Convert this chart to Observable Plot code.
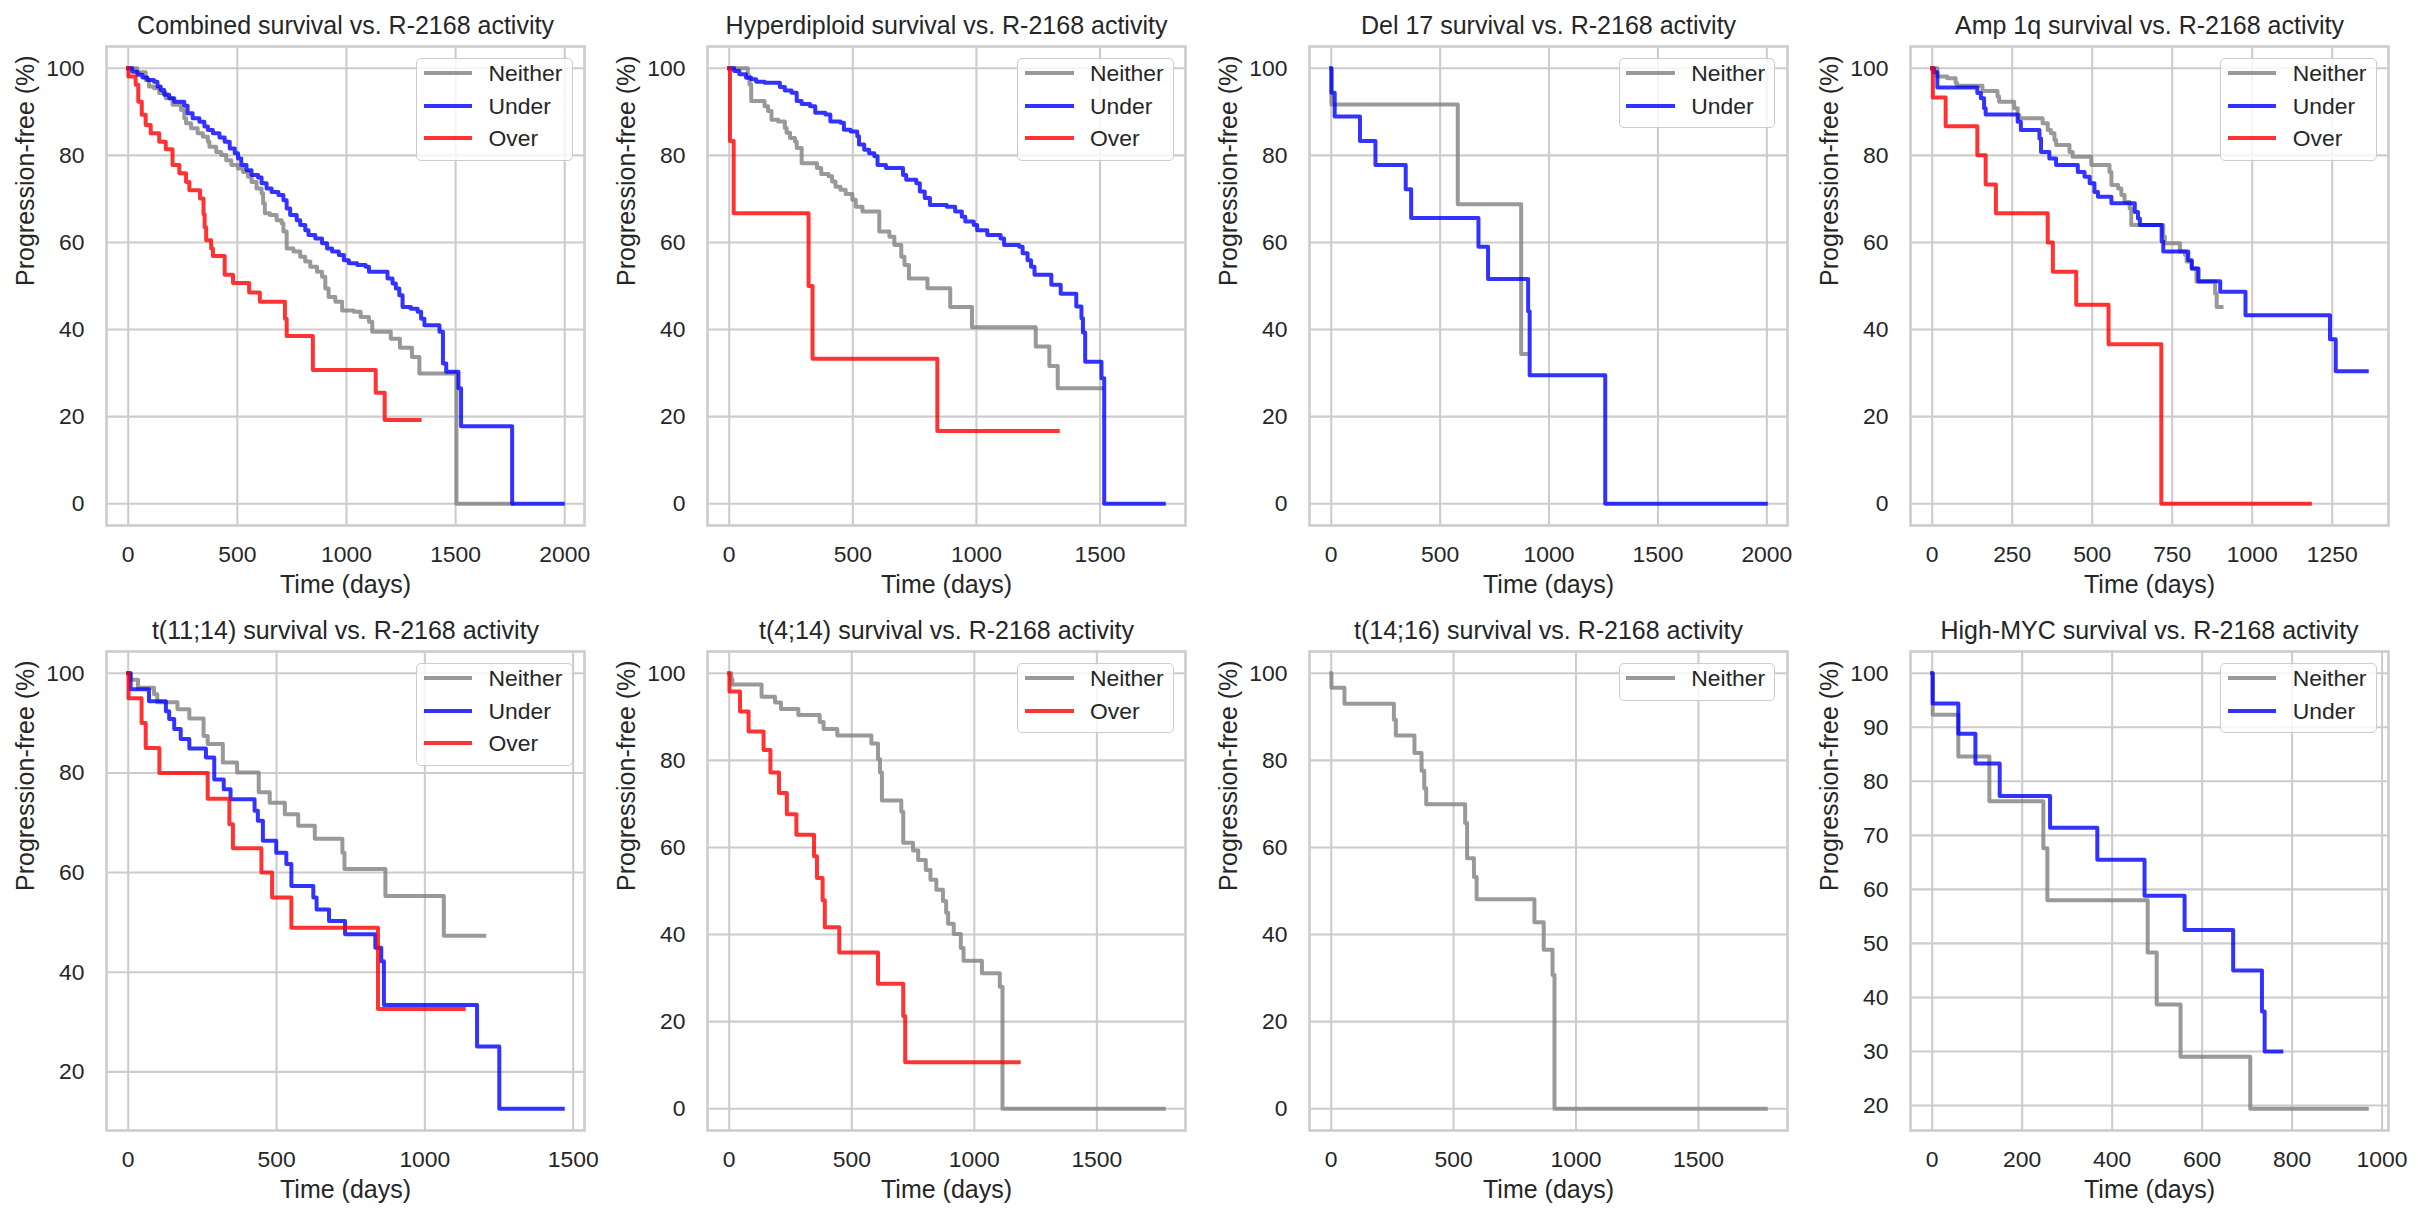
<!DOCTYPE html>
<html><head><meta charset="utf-8">
<script src="https://cdn.jsdelivr.net/npm/d3@7"></script>
<script src="https://cdn.jsdelivr.net/npm/@observablehq/plot@0.6"></script>
<style>
html,body{margin:0;padding:0;background:#fff;}
#page{position:relative;width:2418px;height:1218px;overflow:hidden;font-family:'Liberation Sans',Arial,sans-serif;color:#262626;}
.panel{position:absolute;width:604px;height:609px;}
.legend{position:absolute;box-sizing:border-box;border:1.8px solid #cccccc;border-radius:5px;background:rgba(255,255,255,0.8);padding-right:9.2px;}
.rows{margin-top:-1.7px;}
.row{display:flex;align-items:center;height:32.6px;}
.sw{margin-left:6.8px;width:48.6px;height:4px;margin-right:16.4px;opacity:0.8;flex:none;}
.lab{font-size:22.9px;line-height:32.6px;white-space:nowrap;}
</style></head><body><div id="page"></div>
<script>
// ---------- titles & ticks ----------
const titles = [
  "Combined survival vs. R-2168 activity",
  "Hyperdiploid survival vs. R-2168 activity",
  "Del 17 survival vs. R-2168 activity",
  "Amp 1q survival vs. R-2168 activity",
  "t(11;14) survival vs. R-2168 activity",
  "t(4;14) survival vs. R-2168 activity",
  "t(14;16) survival vs. R-2168 activity",
  "High-MYC survival vs. R-2168 activity"
];
const xLabel = "Time (days)";
const yLabel = "Progression-free (%)";
const groups = ["Neither", "Under", "Over"];
const groupColors = ["gray", "blue", "red"];

const xTicks2000 = [0, 500, 1000, 1500, 2000];
const xTicks1500 = [0, 500, 1000, 1500];
const xTicks1250 = [0, 250, 500, 750, 1000, 1250];
const xTicks1000 = [0, 200, 400, 600, 800, 1000];
const yTicks0 = [0, 20, 40, 60, 80, 100];
const yTicks20 = [20, 40, 60, 80, 100];
const yTicks10 = [20, 30, 40, 50, 60, 70, 80, 90, 100];

// ---------- data: [time (days), progression-free %] step points ----------
const combinedNeither = [[0,100],[41,99.1],[80,97.3],[95,95.8],[118,95.4],[142,94.3],[172,93.1],[203,91.6],[242,90.4],[257,88.5],[265,87.4],[288,86.2],[318,85.1],[342,84.3],[365,83.1],[372,82.0],[403,80.8],[426,80.1],[449,78.9],[472,77.8],[503,77.0],[526,76.2],[549,75.1],[565,73.9],[588,72.4],[611,71.3],[618,69.0],[626,66.7],[649,66.3],[680,65.1],[703,64.4],[711,62.5],[726,58.6],[757,57.9],[788,56.7],[811,55.6],[834,54.4],[865,53.3],[888,52.1],[903,49.4],[918,47.5],[949,46.4],[980,44.4],[1034,44.1],[1065,42.9],[1103,41.8],[1118,39.5],[1203,37.9],[1245,35.8],[1300,33.7],[1334,29.9],[1504,0],[1760,0]];
const combinedUnder = [[0,100],[18,99.2],[42,98.5],[65,97.9],[88,97.3],[118,96.9],[134,95.8],[149,95.0],[165,93.9],[188,93.1],[211,92.3],[257,91.4],[272,89.7],[295,88.5],[326,87.7],[349,86.6],[365,85.8],[388,85.1],[418,84.1],[442,83.1],[465,81.6],[488,80.5],[503,79.3],[518,77.8],[542,76.6],[565,75.5],[595,74.9],[611,73.6],[634,72.4],[657,71.6],[688,70.9],[711,69.7],[726,67.8],[742,66.3],[772,65.1],[788,64.0],[811,62.8],[826,61.7],[857,60.9],[888,59.8],[911,58.6],[934,57.9],[965,57.1],[988,55.9],[1011,55.2],[1049,54.8],[1088,54.4],[1103,53.3],[1188,51.7],[1211,50.6],[1226,49.4],[1242,47.9],[1257,45.2],[1295,44.8],[1326,44.1],[1342,42.5],[1357,41.0],[1426,39.5],[1442,32.2],[1457,30.3],[1513,26.5],[1525,17.8],[1759,0],[1991,0]];
const combinedOver = [[0,100],[1,98.1],[34,96.2],[46,92.3],[62,89.3],[80,87.0],[103,85.1],[142,83.1],[172,81.4],[203,77.8],[234,75.9],[265,73.9],[280,72.0],[329,70.1],[345,66.5],[350,63.5],[357,60.5],[380,58.6],[388,56.9],[442,52.6],[480,50.7],[554,48.5],[603,46.4],[718,42.5],[726,38.5],[846,30.7],[1134,25.5],[1175,19.2],[1335,19.2]];

const hyperNeither = [[0,100],[75,98.2],[82,96.3],[89,92.5],[143,91.3],[157,90.2],[171,88.2],[198,87.8],[225,86.3],[232,85.2],[246,84.0],[266,83.2],[273,81.7],[293,78.2],[355,77.1],[372,75.7],[402,75.2],[416,74.0],[430,72.8],[450,72.1],[471,71.1],[498,69.8],[512,68.2],[539,67.1],[607,62.5],[648,61.3],[668,59.4],[696,56.7],[709,54.8],[727,51.7],[802,49.5],[894,45.2],[982,40.5],[1240,36.1],[1295,31.6],[1329,26.5],[1506,26.5]];
const hyperUnder = [[0,100],[20,99.4],[41,98.6],[68,97.8],[89,97.5],[109,96.9],[143,96.7],[205,95.7],[225,94.9],[252,94.4],[273,92.5],[293,91.8],[327,91.3],[348,89.8],[389,89.4],[409,87.8],[450,87.5],[464,85.9],[491,85.5],[518,84.4],[525,82.5],[546,81.3],[566,80.5],[587,79.8],[600,77.8],[634,77.1],[703,75.5],[716,74.4],[757,73.6],[771,71.7],[791,70.2],[812,68.6],[880,68.2],[914,67.1],[941,65.9],[955,64.8],[989,64.0],[1003,62.8],[1044,61.7],[1098,60.9],[1112,59.4],[1173,59.0],[1187,57.5],[1207,55.9],[1221,54.4],[1235,52.6],[1303,50.3],[1341,48.2],[1404,45.3],[1425,42.6],[1431,39.3],[1440,32.6],[1506,28.8],[1517,0],[1758,0]];
const hyperOver = [[0,100],[3,83.3],[18,66.7],[321,50.0],[337,33.3],[842,16.7],[1329,16.7]];

const del17Neither = [[0,100],[1,91.7],[581,68.8],[872,34.4],[893,34.4]];
const del17Under = [[0,100],[1,94.4],[16,88.9],[132,83.3],[203,77.8],[342,72.2],[367,65.6],[676,59.0],[720,51.6],[904,44.2],[911,29.5],[1258,0],[1995,0]];

const ampNeither = [[0,100],[16,98.1],[47,97.7],[73,96.6],[78,96.0],[157,94.8],[204,93.5],[209,92.3],[256,90.8],[267,89.3],[272,88.5],[345,87.4],[361,85.8],[371,85.1],[382,83.5],[387,82.4],[429,80.8],[439,79.7],[497,77.8],[554,76.2],[560,73.2],[581,72.4],[591,70.9],[601,69.3],[617,67.8],[622,64.0],[722,61.3],[727,59.8],[774,57.9],[790,57.1],[795,55.6],[811,54.0],[826,51.0],[884,48.3],[889,45.2],[904,45.2]];
const ampUnder = [[0,100],[5,99.1],[16,95.6],[141,94.3],[152,93.1],[162,90.8],[167,89.4],[267,87.7],[277,85.8],[335,83.9],[340,80.8],[366,79.3],[387,77.8],[455,76.2],[476,75.1],[492,73.6],[507,71.6],[518,70.5],[560,69.0],[633,67.0],[643,65.5],[649,64.0],[717,60.2],[722,57.9],[800,55.9],[811,54.0],[832,51.1],[900,48.7],[979,43.3],[1243,37.8],[1261,30.4],[1358,30.4]];
const ampOver = [[0,100],[2,93.3],[42,86.7],[141,80.0],[167,73.3],[199,66.7],[361,60.0],[377,53.3],[450,45.7],[551,36.6],[716,0],[1180,0]];

const t1114Neither = [[0,100],[8,98.7],[33,97.1],[87,95.8],[98,94.2],[166,92.8],[206,90.9],[254,87.4],[268,85.8],[319,82.1],[367,80.1],[440,76.1],[477,74.0],[528,71.7],[573,69.4],[629,66.8],[722,64.0],[729,60.7],[867,55.3],[1064,47.3],[1200,47.3]];
const t1114Under = [[0,100],[8,96.8],[70,94.4],[127,92.4],[138,90.8],[155,88.8],[177,86.8],[206,84.9],[262,83.1],[290,78.7],[322,76.7],[345,74.7],[426,72.4],[437,70.4],[454,66.4],[499,64.0],[533,61.7],[550,57.3],[624,55.0],[635,52.6],[677,50.3],[731,47.6],[833,44.9],[853,42.2],[862,33.4],[1176,25.1],[1251,12.6],[1465,12.6]];
const t1114Over = [[0,100],[1,95.0],[45,90.0],[59,85.0],[105,80.0],[268,74.8],[341,69.7],[353,64.9],[449,60.0],[485,55.0],[550,48.9],[842,32.6],[1131,32.6]];

const t414Neither = [[0,100],[8,98.7],[13,97.4],[132,94.6],[187,93.3],[211,91.8],[282,90.4],[369,88.8],[385,87.2],[441,85.7],[580,83.9],[607,80.3],[615,77.2],[623,70.8],[702,68.2],[710,61.1],[750,59.3],[771,57.1],[802,54.8],[821,52.6],[845,50.3],[872,47.7],[885,45.0],[893,42.5],[916,40.1],[945,36.9],[956,34.0],[1031,31.1],[1104,28.0],[1115,0],[1773,0]];
const t414Over = [[0,100],[1,95.8],[44,91.2],[79,86.6],[140,82.4],[168,77.2],[203,72.5],[235,67.6],[274,62.9],[346,58.0],[358,53.0],[381,47.9],[390,41.7],[449,35.9],[607,28.7],[710,21.3],[718,10.7],[1181,10.7]];

const t1416Neither = [[0,100],[1,96.7],[54,93.0],[256,89.3],[264,85.7],[340,81.7],[369,77.6],[380,73.6],[388,69.9],[547,65.6],[555,57.5],[583,53.2],[594,48.1],[830,42.8],[868,36.5],[904,30.7],[912,0],[1775,0]];

const mycNeither = [[0,100],[1,92.3],[58,84.6],[127,76.3],[247,67.6],[256,58.0],[479,48.3],[499,38.7],[552,29.0],[707,19.4],[966,19.4]];
const mycUnder = [[0,100],[1,94.4],[58,88.8],[96,83.3],[150,77.3],[262,71.4],[367,65.5],[472,58.8],[561,52.5],[669,45.0],[733,37.4],[739,30.0],[776,30.0]];

// ---------- panel table ----------
const panels = [
  {title: titles[0], series: [combinedNeither, combinedUnder, combinedOver], xTicks: xTicks2000, yTicks: yTicks0},
  {title: titles[1], series: [hyperNeither, hyperUnder, hyperOver], xTicks: xTicks1500, yTicks: yTicks0},
  {title: titles[2], series: [del17Neither, del17Under, null], xTicks: xTicks2000, yTicks: yTicks0},
  {title: titles[3], series: [ampNeither, ampUnder, ampOver], xTicks: xTicks1250, yTicks: yTicks0},
  {title: titles[4], series: [t1114Neither, t1114Under, t1114Over], xTicks: xTicks1500, yTicks: yTicks20},
  {title: titles[5], series: [t414Neither, null, t414Over], xTicks: xTicks1500, yTicks: yTicks0},
  {title: titles[6], series: [t1416Neither, null, null], xTicks: xTicks1500, yTicks: yTicks0},
  {title: titles[7], series: [mycNeither, mycUnder, null], xTicks: xTicks1000, yTicks: yTicks10}
];

const page = document.getElementById("page");
const W = 604, H = 609, ML = 106, FW = 478, FH = 479;
const MR = W - ML - FW;
const textColor = "#262626";
const gridColor = "#cccccc";
const plainNumber = d => String(d);

panels.forEach((p, i) => {
  const col = i % 4, row = Math.floor(i / 4);
  const mt = row === 0 ? 46 : 42;
  const mb = H - mt - FH;
  const entries = [];
  p.series.forEach((s, k) => { if (s) entries.push({group: groups[k], color: groupColors[k], data: s}); });
  const all = entries.flatMap(e => e.data);
  const xMax = d3.max(all, d => d[0]);
  const yMin = d3.min(all, d => d[1]);
  const yMax = 100;
  const xPad = 0.05 * xMax;
  const yPad = 0.05 * (yMax - yMin);

  const chart = Plot.plot({
    width: W, height: H,
    marginLeft: ML, marginRight: MR, marginTop: mt, marginBottom: mb,
    style: {fontFamily: "'Liberation Sans', Arial, sans-serif", fontSize: "22.9px", color: textColor, background: "transparent", overflow: "visible"},
    x: {type: "linear", domain: [-xPad, xMax + xPad]},
    y: {type: "linear", domain: [yMin - yPad, yMax + yPad]},
    marks: [
      Plot.gridX({ticks: p.xTicks, stroke: gridColor, strokeOpacity: 1, strokeWidth: 2.08}),
      Plot.gridY({ticks: p.yTicks, stroke: gridColor, strokeOpacity: 1, strokeWidth: 2.08}),
      Plot.axisX({ticks: p.xTicks, tickFormat: plainNumber, tickSize: 0, tickPadding: 20, label: null, fill: textColor, fontSize: 22.9}),
      Plot.axisY({ticks: p.yTicks, tickFormat: plainNumber, tickSize: 0, tickPadding: 22, label: null, fill: textColor, fontSize: 22.9}),
      ...entries.map(e => Plot.line(e.data, {
        x: d => d[0], y: d => d[1], curve: "step-after",
        stroke: e.color, strokeOpacity: 0.8, strokeWidth: 4,
        strokeLinejoin: "round", strokeLinecap: "square"
      })),
      Plot.frame({stroke: gridColor, strokeWidth: 2.6}),
      Plot.text([p.title], {text: d => d, frameAnchor: "top", dy: -21, lineAnchor: "middle", fontSize: 25, fill: textColor}),
      Plot.text([xLabel], {text: d => d, frameAnchor: "bottom", dy: 59, lineAnchor: "middle", fontSize: 25, fill: textColor}),
      Plot.text([yLabel], {text: d => d, frameAnchor: "left", dx: -81, rotate: -90, lineAnchor: "middle", fontSize: 25, fill: textColor})
    ]
  });

  const div = document.createElement("div");
  div.className = "panel";
  div.style.left = (601.4 * col) + "px";
  div.style.top = (609 * row) + "px";
  div.appendChild(chart);

  const lg = document.createElement("div");
  lg.className = "legend";
  lg.style.right = (MR + 11.5) + "px";
  lg.style.top = (mt + 11.7) + "px";
  lg.style.height = (5.4 + 32.6 * entries.length) + "px";
  const rows = document.createElement("div");
  rows.className = "rows";
  entries.forEach(e => {
    const r = document.createElement("div");
    r.className = "row";
    const sw = document.createElement("div");
    sw.className = "sw";
    sw.style.background = e.color;
    const lab = document.createElement("span");
    lab.className = "lab";
    lab.textContent = e.group;
    r.appendChild(sw); r.appendChild(lab);
    rows.appendChild(r);
  });
  lg.appendChild(rows);
  div.appendChild(lg);
  page.appendChild(div);
});
</script></body></html>
